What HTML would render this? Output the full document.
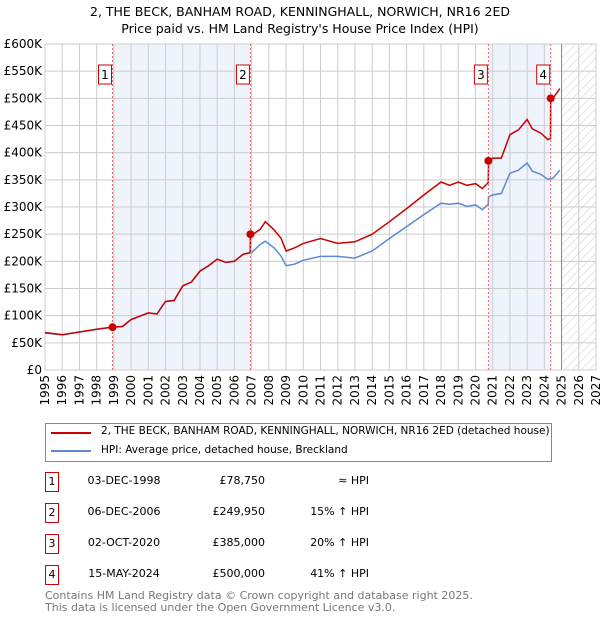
<!DOCTYPE html>
<html><head><meta charset="utf-8"><style>
body{margin:0;background:#fff;font-family:"DejaVu Sans","Liberation Sans",sans-serif;}
#wrap{position:relative;width:600px;height:620px;overflow:hidden}
.t{position:absolute;font-size:11px;color:#000;white-space:nowrap}
.nb{position:absolute;width:12px;height:18px;border:1px solid #c00;font-size:11px;text-align:center;line-height:18px;background:#fff}
</style></head><body><div id="wrap">
<div class="t" style="left:0;width:600px;text-align:center;top:4px;font-size:12.5px">2, THE BECK, BANHAM ROAD, KENNINGHALL, NORWICH, NR16 2ED</div>
<div class="t" style="left:0;width:600px;text-align:center;top:21px;font-size:12.5px">Price paid vs. HM Land Registry's House Price Index (HPI)</div>
<svg id="svg" width="600" height="420" style="position:absolute;left:0;top:0;font-family:'DejaVu Sans',sans-serif">
<defs><pattern id="hatch" width="6" height="6" patternUnits="userSpaceOnUse" patternTransform="rotate(45)"><line x1="0" y1="0" x2="0" y2="6" stroke="#ccc" stroke-width="1"/></pattern></defs>
</svg>
<div style="position:absolute;left:45px;top:423px;width:505px;height:37px;border:1px solid #888">
<div style="position:absolute;left:5px;top:8px;width:40px;border-top:2px solid #c00"></div>
<div class="t" style="left:55px;top:1px;font-size:10.5px">2, THE BECK, BANHAM ROAD, KENNINGHALL, NORWICH, NR16 2ED (detached house)</div>
<div style="position:absolute;left:5px;top:26px;width:40px;border-top:2px solid #5b8bd0"></div>
<div class="t" style="left:55px;top:20px;font-size:10.5px">HPI: Average price, detached house, Breckland</div>
</div>
<div id="tbl"></div>
<div class="t" style="left:45px;top:590px;color:#777;font-size:11px;line-height:11.5px">Contains HM Land Registry data © Crown copyright and database right 2025.<br>This data is licensed under the Open Government Licence v3.0.</div>
</div>
<script>
const years=[1995,1996,1997,1998,1998.92,1999.5,2000,2001,2001.5,2002,2002.5,2003,2003.5,2004,2004.5,2005,2005.5,2006,2006.5,2006.92,2006.93,2007,2007.5,2007.8,2008.3,2008.7,2009,2009.5,2010,2011,2012,2013,2014,2015,2016,2017,2018,2018.5,2019,2019.5,2020,2020.4,2020.74,2020.76,2021,2021.5,2022,2022.5,2023,2023.3,2023.8,2024.2,2024.36,2024.37,2024.5,2024.9];
const hpi=[68,65,70,75,79,80,93,105,103,126,128,155,162,182,192,204,198,200,213,216,216,216,231,237,225,210,192,195,202,209,209,206,219,242,264,286,307,305,307,301,304,295,305,319,322,325,362,368,381,366,360,351,352,352,353,368];
const paid=[69,65,70,75,79,80,93,105,103,126,128,155,162,182,192,204,198,200,213,216,250,248,259,273,258,243,219,225,233,242,233,236,250,273,297,322,346,340,346,340,343,334,345,385,390,390,433,442,461,444,436,424,426,500,500,518];
const yTicks=[0,50,100,150,200,250,300,350,400,450,500,550,600];
const xTicks=[1995,1996,1997,1998,1999,2000,2001,2002,2003,2004,2005,2006,2007,2008,2009,2010,2011,2012,2013,2014,2015,2016,2017,2018,2019,2020,2021,2022,2023,2024,2025,2026,2027];
const saleYears=[1998.92,2006.93,2020.75,2024.37];
const salePrices=[78.75,249.95,385,500];
const saleLabels=["1","2","3","4"];
const saleDates=["03-DEC-1998","06-DEC-2006","02-OCT-2020","15-MAY-2024"];
const salePriceText=["£78,750","£249,950","£385,000","£500,000"];
const saleHpiText=["≈ HPI","15% ↑ HPI","20% ↑ HPI","41% ↑ HPI"];
const shadeStart=[1998.92,2020.75];const shadeEnd=[2006.93,2024.37];
const X0=45,X1=596,Y0=370,Y1=44;
const x=v=>X0+(v-1995)/(2027-1995)*(X1-X0);
const y=v=>Y0-v/600*(Y0-Y1);
const svg=document.getElementById('svg');const NS='http://www.w3.org/2000/svg';
function mk(t,a,p){const e=document.createElementNS(NS,t);for(const k in a)e.setAttribute(k,a[k]);(p||svg).appendChild(e);return e;}
for(let i=0;i<shadeStart.length;i++){const r=mk('rect',{x:x(shadeStart[i]),y:Y1,width:x(shadeEnd[i])-x(shadeStart[i]),height:Y0-Y1,fill:'#eef3fc'});

}
const h=mk('rect',{x:x(2025),y:Y1,width:X1-x(2025),height:Y0-Y1,fill:'url(#hatch)'});


yTicks.forEach(v=>{mk('line',{x1:X0,x2:X1,y1:y(v),y2:y(v),stroke:'#ccc'});const t=mk('text',{x:X0-3,y:y(v)+4,'text-anchor':'end','font-size':12,fill:'#000'});t.textContent=v==0?'£0':'£'+v+'K';

});
xTicks.forEach(v=>{mk('line',{x1:x(v),x2:x(v),y1:Y1,y2:Y0,stroke:'#ccc'});const t=mk('text',{x:0,y:0,'text-anchor':'end','font-size':12,fill:'#000',transform:`translate(${x(v)+4},${Y0+5}) rotate(-90)`});t.textContent=v;

});
mk('line',{x1:x(2025),x2:x(2025),y1:Y1,y2:Y0,stroke:'#888'});
mk('rect',{x:X0,y:Y1,width:X1-X0,height:Y0-Y1,fill:'none',stroke:'#ccc'});
const pl=(arr,c)=>years.map((yr,i)=>x(yr).toFixed(1)+','+y(arr[i]).toFixed(1)).join(' ');
const l1=mk('polyline',{points:pl(hpi),fill:'none',stroke:'#5b8bd0','stroke-width':1.5});


const l2=mk('polyline',{points:pl(paid),fill:'none',stroke:'#cc0000','stroke-width':1.5});


saleYears.forEach((s,i)=>{mk('line',{x1:x(s),x2:x(s),y1:Y1,y2:Y0,stroke:'#e66','stroke-dasharray':'2,2'});
const d=mk('circle',{cx:x(s),cy:y(salePrices[i]),r:4,fill:'#cc0000'});


const g=mk('g',{});


mk('rect',{x:x(s)-14,y:65,width:13,height:19,fill:'#fff',stroke:'#c00'},g);
const t=mk('text',{x:x(s)-7.5,y:79,'text-anchor':'middle','font-size':12},g);t.textContent=saleLabels[i];});
const tbl=document.getElementById('tbl');const rowY=[472,503,534,565];
saleLabels.forEach((n,i)=>{const r=document.createElement('div');


r.innerHTML=`<div class="nb" style="left:45px;top:${rowY[i]}px">${n}</div><div class="t" style="left:80px;width:88px;text-align:center;top:${rowY[i]+2}px">${saleDates[i]}</div><div class="t" style="left:180px;width:85px;text-align:right;top:${rowY[i]+2}px">${salePriceText[i]}</div><div class="t" style="left:290px;width:79px;text-align:right;top:${rowY[i]+2}px">${saleHpiText[i]}</div>`;
tbl.appendChild(r);});
</script></body></html>
